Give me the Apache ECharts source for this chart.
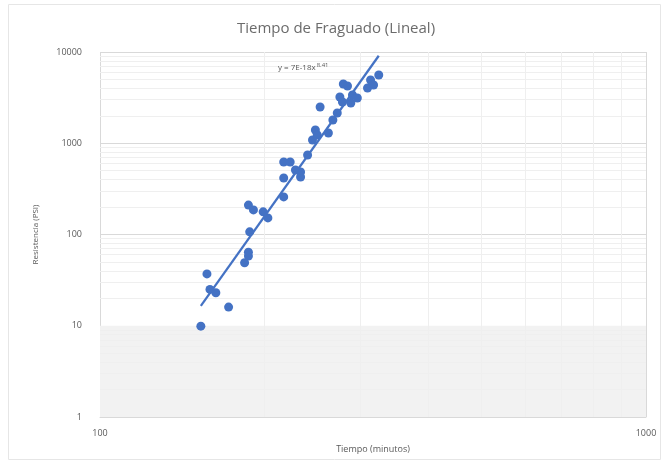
<!DOCTYPE html>
<html><head><meta charset="utf-8">
<script src="https://cdn.jsdelivr.net/npm/echarts@6/dist/echarts.min.js"></script>
<style>html,body{margin:0;padding:0;background:#fff}#c{width:672px;height:462px}</style>
</head><body><div id="c"></div>
<script>
// Data
const tiempo = [153, 157, 159, 163, 172, 184, 187, 187, 188, 187, 191, 199, 203, 217, 217, 217, 223, 228, 233, 233, 240, 245, 248, 250, 262, 253, 267, 272, 278, 279, 284, 288, 290, 296, 309, 313, 317, 324, 275];
const resistencia = [9.9, 37, 25, 23, 16, 49, 58, 64, 107, 210, 186, 177, 152, 258, 416, 623, 623, 509, 427, 484, 743, 1086, 1396, 1231, 1295, 2496, 1798, 2148, 2832, 4459, 4240, 2761, 3381, 3133, 4030, 4934, 4348, 5597, 3214];
// Trendline equation shown on chart: y = 7E-18 x^8.41
const trendCoef = 7e-18;
const trendExp = 8.41;
const xMinorTicks = [200, 300, 400, 500, 600, 700, 800, 900];
const yMinorTicks = [2,3,4,5,6,7,8,9,20,30,40,50,60,70,80,90,200,300,400,500,600,700,800,900,2000,3000,4000,5000,6000,7000,8000,9000];

const points = tiempo.map((t, i) => [t, resistencia[i]]);
const xMin = Math.min(...tiempo), xMax = Math.max(...tiempo);
const trend = [xMin, xMax].map(x => [x, trendCoef * Math.pow(x, trendExp)]);

const chart = echarts.init(document.getElementById('c'), null, {renderer: 'canvas'});
const labelColor = '#595959';
chart.setOption({
  animation: false,
  backgroundColor: '#fff',
  title: {
    text: 'Tiempo de Fraguado (Lineal)',
    left: 'center', top: 16,
    textStyle: {fontFamily: 'Open Sans', fontSize: 15, fontWeight: 'normal', color: '#6b6b6b'}
  },
  grid: {left: 100, right: 26, top: 52, bottom: 45},
  xAxis: {
    type: 'log', logBase: 10, min: 100, max: 1000,
    name: 'Tiempo (minutos)', nameLocation: 'middle', nameGap: 28,
    nameTextStyle: {fontFamily: 'Open Sans', fontSize: 9, color: labelColor},
    axisLine: {show: true, lineStyle: {color: '#d9d9d9'}},
    axisTick: {show: false},
    axisLabel: {fontFamily: 'Open Sans', fontSize: 9, color: labelColor, margin: 12, formatter: v => String(Math.round(v))},
    splitLine: {show: true, lineStyle: {color: '#d9d9d9', width: 1}}
  },
  yAxis: {
    type: 'log', logBase: 10, min: 1, max: 10000,
    name: 'Resistencia (PSI)', nameLocation: 'middle', nameGap: 60,
    nameTextStyle: {fontFamily: 'Open Sans', fontSize: 8, color: labelColor},
    axisLine: {show: false},
    axisTick: {show: false},
    axisLabel: {fontFamily: 'Open Sans', fontSize: 9, color: labelColor, margin: 18, formatter: v => String(Math.round(v))},
    splitLine: {show: true, lineStyle: {color: '#d9d9d9', width: 1}}
  },
  graphic: [
    {type: 'rect', shape: {x: 8.5, y: 4.5, width: 652, height: 455}, style: {fill: 'none', stroke: '#e6e6e6', lineWidth: 1}, silent: true, z: -10},
    {type: 'text', left: 278, top: 62, z: 10, style: {
      text: '{a|y = 7E-18x}{b|8.41}',
      rich: {
        a: {fontFamily: 'Open Sans', fontSize: 8, fill: '#595959', color: '#595959'},
        b: {fontFamily: 'Open Sans', fontSize: 6, fill: '#595959', color: '#595959', padding: [0, 0, 6, 1]}
      }
    }}
  ],
  series: [
    {
      type: 'line', data: [], silent: true,
      markArea: {silent: true, z: 0, itemStyle: {color: '#f2f2f2'}, data: [[{yAxis: 1}, {yAxis: 10}]]},
      markLine: {
        silent: true, z: 1, symbol: 'none', label: {show: false},
        lineStyle: {color: '#efefef', width: 1, type: 'solid'},
        data: xMinorTicks.map(v => ({xAxis: v})).concat(yMinorTicks.map(v => ({yAxis: v})))
      },
      z: 0
    },
    {
      type: 'scatter', data: points, symbol: 'circle', symbolSize: 9,
      itemStyle: {color: '#4472C4', opacity: 1}, z: 6
    },
    {
      type: 'line', data: trend, showSymbol: false, symbol: 'none',
      lineStyle: {color: '#4472C4', width: 2.25}, z: 7
    }
  ]
});
</script>
</body></html>
